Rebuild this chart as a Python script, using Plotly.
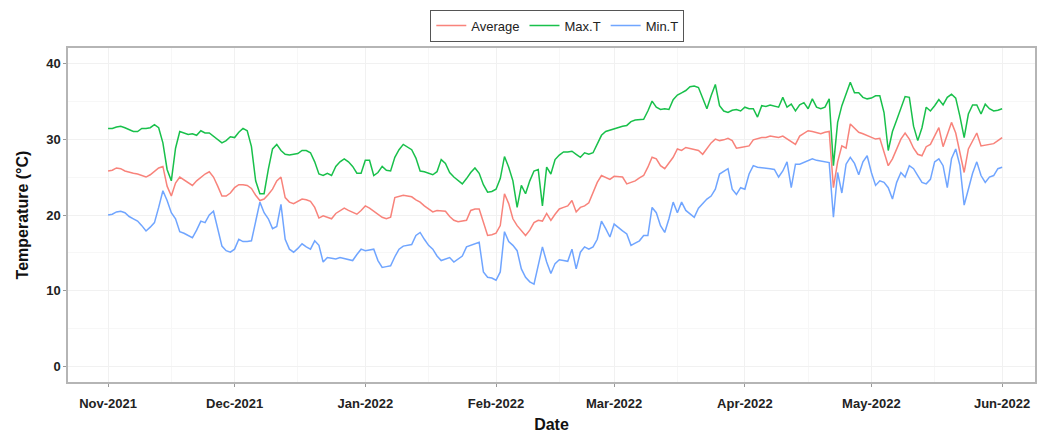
import pandas as pd
import plotly.graph_objects as go

# Daily series, 1 Nov 2021 .. 1 Jun 2022
start_date = "2021-11-01"

avg_t = [
    25.8, 25.9, 26.2, 26.1, 25.8, 25.6, 25.5, 25.4, 25.2, 25.0,
    25.3, 25.7, 26.2, 26.4, 23.8, 22.5, 24.2, 25.0, 24.6, 24.2,
    23.9, 24.5, 25.0, 25.4, 25.7, 25.0, 23.8, 22.5, 22.5, 22.9,
    23.6, 24.0, 24.0, 23.9, 23.5, 22.6, 21.9, 22.1, 22.7, 23.4,
    24.5, 25.0, 22.3, 21.7, 21.5, 21.8, 22.1, 22.0, 21.8, 21.0,
    19.6, 19.9, 19.7, 19.5, 20.2, 20.6, 20.9, 20.6, 20.3, 20.1,
    20.6, 21.2, 20.9, 20.5, 20.0, 19.7, 19.5, 19.7, 22.3, 22.5,
    22.6, 22.5, 22.4, 22.0, 21.7, 21.2, 20.8, 20.4, 20.6, 20.6,
    20.5, 19.8, 19.3, 19.1, 19.2, 19.3, 20.6, 20.8, 20.8, 19.1,
    17.3, 17.4, 17.6, 18.6, 22.8, 21.5, 19.5, 18.6, 18.0, 17.3,
    18.0, 19.0, 19.3, 19.2, 20.2, 19.3, 20.1, 20.8, 21.0, 21.2,
    21.9, 20.4, 21.0, 21.2, 21.6, 23.0, 24.3, 25.2, 24.9, 24.7,
    25.1, 25.0, 25.0, 24.1, 24.3, 24.5, 24.9, 25.2, 26.3, 27.6,
    27.4, 26.5, 26.1, 26.8, 27.6, 28.7, 28.5, 28.9, 28.8, 28.6,
    28.5, 28.0, 28.7, 29.5, 30.0, 29.8, 29.9, 30.1, 29.8, 28.8,
    28.9, 29.0, 29.1, 29.9, 30.1, 30.2, 30.2, 30.4, 30.3, 30.2,
    30.4, 30.0, 29.6, 29.3, 30.4, 30.8, 31.1, 31.0, 30.9, 30.7,
    30.9, 31.0, 23.6, 27.0, 29.1, 28.8, 32.0, 31.5, 30.9, 30.7,
    30.5, 30.3, 30.0, 30.1, 28.2, 26.5, 27.4, 28.7, 30.0, 30.8,
    30.0, 28.8, 28.0, 27.8, 29.0, 29.3, 30.5, 31.5, 29.0, 30.5,
    32.2, 30.8, 28.2, 25.6, 28.7, 29.8, 30.8, 29.1, 29.2, 29.3,
    29.4, 29.8, 30.2,
]

max_t = [
    31.4, 31.4, 31.6, 31.7, 31.5, 31.2, 31.0, 31.0, 31.4, 31.4,
    31.5, 31.9, 31.5, 29.5, 26.0, 24.5, 28.8, 31.0, 30.8, 30.6,
    30.7, 30.5, 31.1, 30.8, 30.8, 30.4, 30.0, 29.5, 29.8, 30.3,
    30.2, 30.9, 31.4, 31.1, 29.0, 24.5, 22.8, 22.8, 26.0, 28.7,
    29.3, 28.5, 28.0, 27.9, 28.0, 28.1, 28.5, 28.5, 28.2, 27.0,
    25.4, 25.2, 25.5, 25.2, 26.4, 27.0, 27.4, 27.0, 26.4, 25.5,
    25.5, 27.2, 27.2, 25.2, 25.6, 26.4, 25.9, 25.8, 27.6, 28.6,
    29.3, 28.9, 28.6, 27.5, 25.8, 25.7, 25.5, 25.3, 25.7, 27.3,
    26.8, 25.6, 25.0, 24.5, 24.1, 24.8, 25.6, 26.2, 25.5, 24.0,
    23.0, 23.1, 23.4, 24.8, 27.7, 26.3, 24.5, 21.0, 23.9, 22.8,
    24.5, 25.8, 26.0, 21.2, 26.3, 25.4, 27.3, 27.9, 28.3, 28.3,
    28.4, 28.0, 27.6, 28.2, 28.0, 28.2, 29.3, 30.5, 31.0, 31.2,
    31.3, 31.6, 31.7, 31.8, 32.3, 32.5, 32.6, 32.6, 33.7, 35.0,
    34.2, 33.9, 34.0, 33.9, 35.2, 35.8, 36.1, 36.4, 36.9, 37.0,
    36.8, 35.5, 34.0, 35.7, 37.2, 34.4, 33.7, 33.5, 33.8, 33.9,
    33.7, 34.2, 34.0, 34.0, 32.9, 34.4, 34.3, 34.5, 34.3, 34.2,
    35.5, 34.2, 34.6, 33.7, 34.5, 34.8, 34.0, 35.3, 34.2, 34.0,
    34.2, 35.3, 26.5, 32.2, 34.4, 36.0, 37.5, 36.1, 36.1, 35.5,
    35.3, 35.4, 35.7, 35.7, 33.5, 28.5, 31.0, 32.5, 34.2, 35.6,
    35.5, 31.7, 29.8, 31.5, 34.2, 33.7, 34.4, 35.2, 34.5, 35.5,
    35.9, 35.4, 33.0, 30.2, 33.3, 34.5, 34.5, 33.3, 34.6, 34.0,
    33.7, 33.8, 34.0,
]

min_t = [
    20.0, 20.1, 20.4, 20.5, 20.3, 19.8, 19.5, 19.2, 18.6, 17.9,
    18.4, 19.0, 21.0, 23.2, 21.9, 20.3, 19.5, 17.8, 17.6, 17.3,
    17.0, 18.0, 19.2, 19.0, 20.0, 20.5, 18.1, 15.9, 15.3, 15.1,
    15.5, 16.8, 16.5, 16.5, 16.6, 19.0, 21.7, 20.3, 19.5, 18.2,
    18.5, 21.4, 16.8, 15.5, 15.1, 15.6, 16.2, 15.8, 15.5, 16.6,
    16.0, 13.8, 14.4, 14.3, 14.2, 14.4, 14.3, 14.1, 14.0, 14.8,
    15.5, 15.3, 15.4, 15.5, 14.0, 13.1, 13.2, 13.3, 14.5, 15.5,
    15.9, 16.0, 16.1, 17.3, 17.7, 16.8, 16.0, 15.5, 14.6, 14.0,
    14.2, 14.4, 13.8, 14.2, 14.6, 15.8, 16.0, 16.2, 16.4, 12.5,
    11.8, 11.7, 11.4, 12.5, 17.8, 16.5, 16.0, 15.3, 12.9, 11.8,
    11.2, 10.9, 13.5, 15.8, 13.8, 12.3, 13.6, 14.1, 14.0, 13.9,
    15.5, 12.9, 15.1, 15.8, 15.5, 15.8, 16.8, 19.2, 18.2, 17.1,
    18.8, 18.3, 17.9, 17.5, 16.0, 16.3, 16.6, 17.3, 17.3, 21.0,
    20.3, 18.6, 17.7, 19.5, 21.7, 20.3, 21.7, 20.6, 20.2, 19.7,
    20.9, 21.5, 22.1, 22.5, 23.4, 25.4, 25.8, 26.1, 23.4, 22.7,
    23.6, 23.4, 25.4, 26.5, 26.3, 26.2, 26.2, 26.1, 26.0, 25.0,
    25.8, 27.0, 23.6, 26.7, 26.7, 26.9, 27.1, 27.4, 27.2, 27.1,
    27.0, 26.9, 19.7, 25.6, 22.9, 26.7, 27.6, 26.8, 25.3, 27.0,
    27.8, 25.6, 23.9, 24.5, 24.3, 23.6, 22.1, 24.3, 25.6, 25.0,
    26.5, 26.1, 25.2, 24.3, 24.1, 24.7, 27.0, 27.4, 26.5, 23.6,
    27.4, 28.7, 26.5, 21.3, 23.4, 25.5, 27.0, 25.2, 24.3, 25.0,
    25.2, 26.1, 26.3,
]

series_names = ["Average", "Max.T", "Min.T"]
series_colors = ["#F8766D", "#00BA38", "#619CFF"]
y_ticks = [0, 10, 20, 30, 40]

dates = pd.date_range(start_date, periods=len(avg_t), freq="D")
month_ticks = pd.date_range("2021-11-01", "2022-06-01", freq="MS")

fig = go.Figure()
for name, vals, col in zip(series_names, [avg_t, max_t, min_t], series_colors):
    fig.add_trace(go.Scatter(
        x=dates, y=vals, name=name, mode="lines",
        line=dict(color=col, width=1.5), opacity=0.9,
    ))

bold = dict(family="Liberation Sans, Arial, sans-serif", size=13,
            color="#222222", weight="bold")
title_font = dict(family="Liberation Sans, Arial", size=16,
                  color="#111111", weight="bold")

x_lo = pd.Timestamp("2021-11-01") - pd.Timedelta(days=9.5)
x_hi = pd.Timestamp("2022-06-01") + pd.Timedelta(days=7.8)

fig.update_layout(
    width=1054, height=437,
    margin=dict(l=68, r=19, t=48, b=55, autoexpand=False),
    paper_bgcolor="white", plot_bgcolor="white",
    showlegend=True,
    legend=dict(
        orientation="h", x=0.506, xanchor="center", y=1.115, yanchor="top",
        bordercolor="#555555", borderwidth=1, bgcolor="white",
        font=dict(family="Liberation Sans, Arial", size=13, color="#222222"),
        itemwidth=30, tracegroupgap=0,
    ),
    xaxis=dict(
        range=[x_lo, x_hi], tickvals=month_ticks, tickformat="%b-%Y",
        tickfont=bold, ticks="outside", ticklen=3, tickcolor="#999999",
        ticklabelstandoff=6, automargin=False,
        showgrid=True, gridcolor="#f1f1f1", gridwidth=1,
        minor=dict(showgrid=True, gridcolor="#f7f7f7", gridwidth=1,
                   tickvals=month_ticks + pd.Timedelta(days=15)),
        showline=True, linecolor="#b5b5b5", linewidth=1.5, mirror=True,
        zeroline=False,
        title=dict(text="Date", font=title_font, standoff=8),
    ),
    yaxis=dict(
        range=[-2, 42], tickvals=y_ticks,
        tickfont=bold, ticks="outside", ticklen=3, tickcolor="#999999",
        automargin=False,
        showgrid=True, gridcolor="#f1f1f1", gridwidth=1,
        minor=dict(showgrid=True, gridcolor="#f7f7f7", gridwidth=1,
                   tickvals=[5, 15, 25, 35]),
        showline=True, linecolor="#b5b5b5", linewidth=1.5, mirror=True,
        zeroline=False,
        title=dict(text="Temperature (°C)", font=title_font, standoff=14),
    ),
)

fig.write_html("out.html")
